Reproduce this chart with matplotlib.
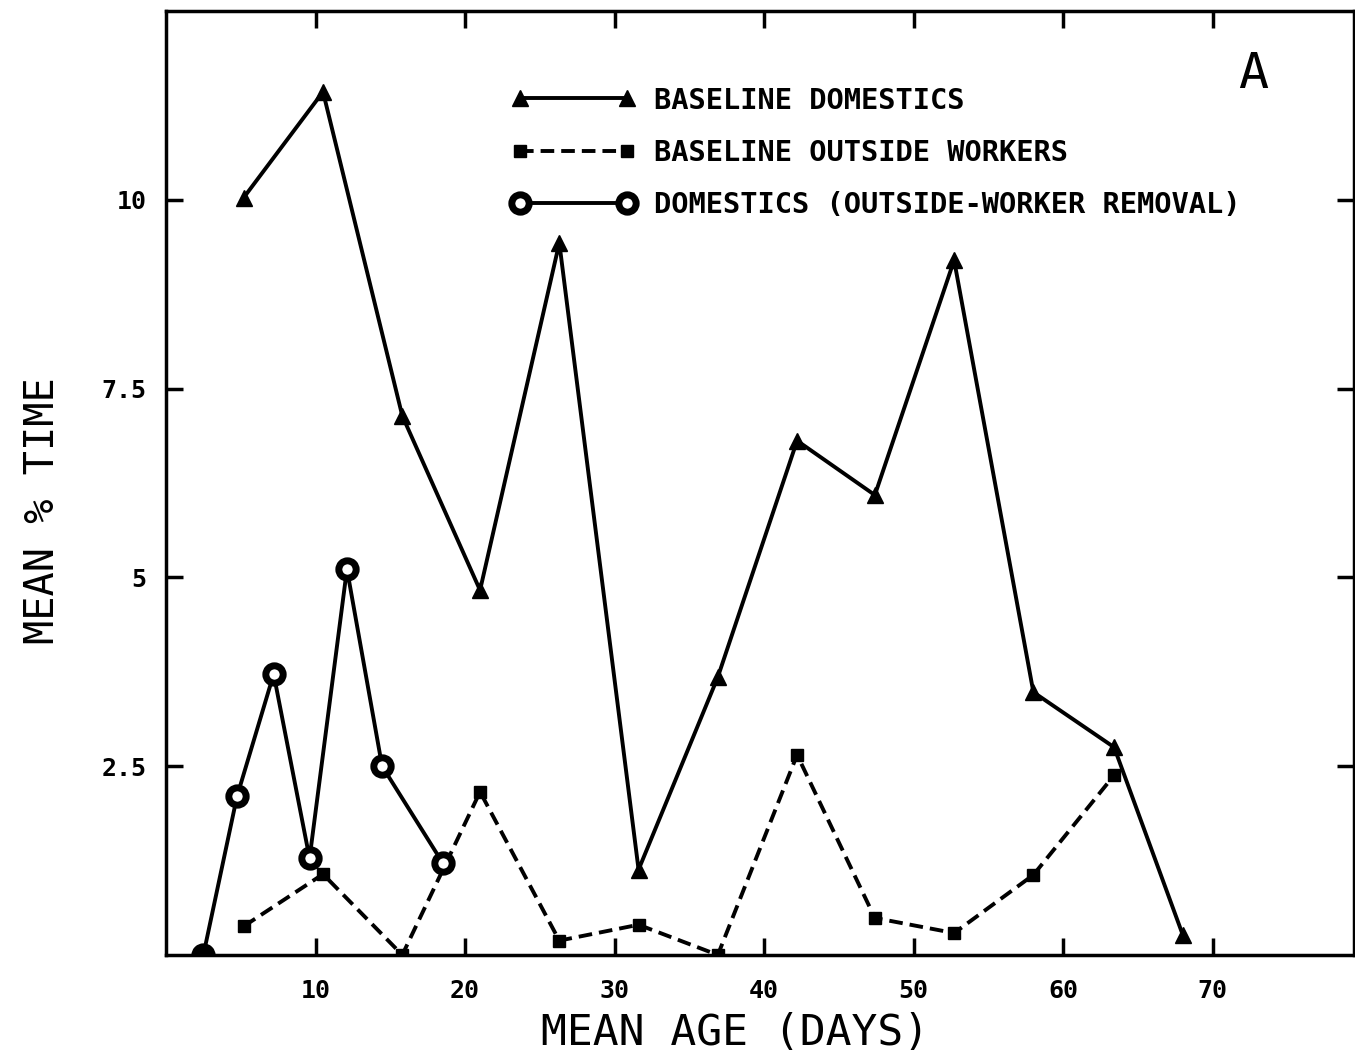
import matplotlib
matplotlib.use('Agg')
import matplotlib.pyplot as plt

# mean age (days) and mean % time for each group
age = [5.2, 10.5, 15.8, 21.0, 26.3, 31.6, 36.9, 42.2, 47.4, 52.7, 58.0, 63.4, 68.0]
dom_base = [10.03, 11.43, 7.14, 4.83, 9.43, 1.13, 3.68, 6.81, 6.09, 9.2, 3.48, 2.75, 0.26]

out_age = age[:12]
out_base = [0.38, 1.07, 0.0, 2.16, 0.19, 0.40, 0.0, 2.65, 0.49, 0.29, 1.06, 2.38]

rem_age = [2.5, 4.75, 7.2, 9.6, 12.1, 14.45, 18.5]
dom_removal = [0.0, 2.1, 3.72, 1.28, 5.11, 2.5, 1.22]

xticks = [10, 20, 30, 40, 50, 60, 70]
yticks = [2.5, 5, 7.5, 10]
ytick_labels = ['2.5', '5', '7.5', '10']

font = 'DejaVu Sans Mono'
plt.rcParams['font.family'] = font

fig = plt.figure(figsize=(13.55, 10.62), dpi=100)
ax = fig.add_axes([0.1225, 0.1008, 0.877, 0.8888])

l1, = ax.plot(age, dom_base, color='black', lw=2.8, marker='^', ms=12,
              label='BASELINE DOMESTICS')
l2, = ax.plot(out_age, out_base, color='black', lw=2.8, dashes=(3.5, 1.8),
              marker='s', ms=9, label='BASELINE OUTSIDE WORKERS')
l3, = ax.plot(rem_age, dom_removal, color='black', lw=2.8, marker='o', ms=12.5,
              mfc='white', mec='black', mew=5,
              label='DOMESTICS (OUTSIDE-WORKER REMOVAL)')
# first point of the removal series is solid
ax.plot(rem_age[:1], dom_removal[:1], 'o', color='black', ms=14)

ax.set_xlim(0, 79.46)
ax.set_ylim(0, 12.5)
ax.set_xticks(xticks)
ax.set_xticklabels([str(t) for t in xticks], fontweight='bold')
ax.set_yticks(yticks)
ax.set_yticklabels(ytick_labels, fontweight='bold')
ax.tick_params(direction='in', length=12, width=2.5, labelsize=18,
               top=True, right=True)
ax.tick_params(axis='x', pad=17)
ax.tick_params(axis='y', pad=14)
for s in ax.spines.values():
    s.set_linewidth(2.5)

ax.set_xlabel('MEAN AGE (DAYS)', fontsize=31)
ax.xaxis.set_label_coords(0.479, -0.06)
ax.set_ylabel('MEAN % TIME', fontsize=29)
ax.yaxis.set_label_coords(-0.087, 0.471)

ax.text(0.915, 0.933, 'A', transform=ax.transAxes, fontsize=36,
        ha='center', va='center')

leg = ax.legend(handles=[l1, l2, l3], loc='upper left',
                bbox_to_anchor=(0.291, 0.92), frameon=False,
                prop={'size': 20.7, 'weight': 'bold'},
                handlelength=4.3, handletextpad=0.65, labelspacing=0.85,
                borderpad=0, borderaxespad=0, numpoints=2)

fig.savefig('out.png', dpi=100)
